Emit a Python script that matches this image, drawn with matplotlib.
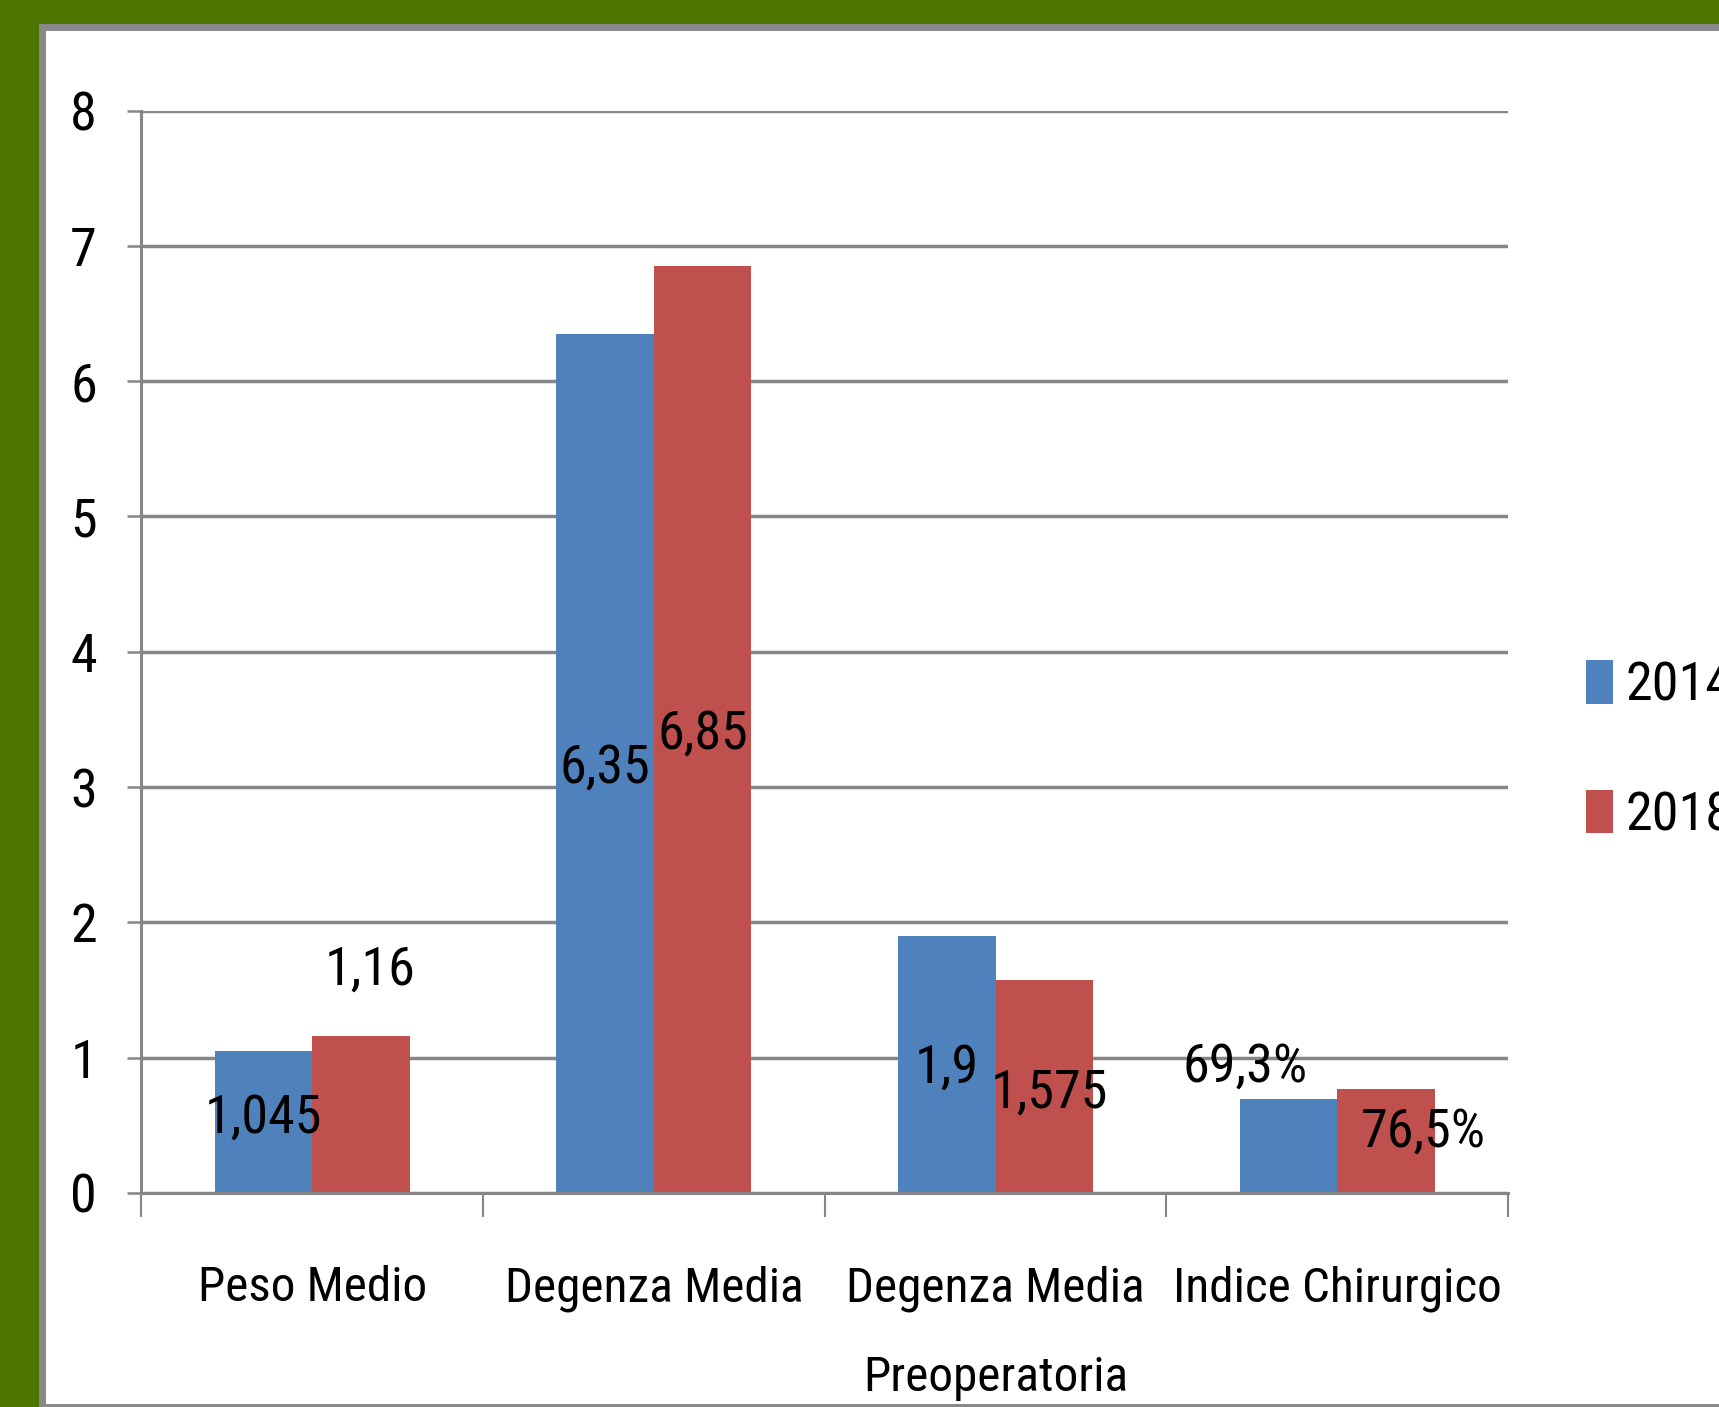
import matplotlib.pyplot as plt
import numpy as np
from matplotlib.patches import Rectangle

categories = ["Peso Medio", "Degenza Media", "Degenza Media\nPreoperatoria", "Indice Chirurgico"]
years = ["2014", "2018"]
values_2014 = [1.045, 6.35, 1.9, 0.693]
values_2018 = [1.16, 6.85, 1.575, 0.765]
labels_2014 = ["1,045", "6,35", "1,9", "69,3%"]
labels_2018 = ["1,16", "6,85", "1,575", "76,5%"]

# where the labels were dragged to in the original (x offset, y in data units)
label_pos_2014 = [(0.0, 0.55), (0.0, 3.14), (0.0, 0.92), (-0.128, 0.93)]
label_pos_2018 = [(0.027, 1.645), (0.0, 3.39), (0.014, 0.74), (0.11, 0.45)]

BLUE = "#4F81BD"
RED = "#C0504D"
GRID = "#868686"
FONT = ["Liberation Sans Narrow", "Roboto Condensed", "DejaVu Sans"]
FS = 39

plt.rcParams["font.family"] = FONT
plt.rcParams["font.stretch"] = "condensed"

W, H = 1719, 1407
fig = plt.figure(figsize=(W / 100, H / 100), dpi=100, facecolor="#4E7600")

# white panel with gray frame
fig.patches.append(Rectangle((41.5 / W, 0), 1.0, (H - 26.5) / H, transform=fig.transFigure,
                             facecolor="white", edgecolor="#898989", linewidth=5, zorder=-5))

left, right, top, bottom = 141.4, 1508, 110.7, 1192.8
ax = fig.add_axes([left / W, (H - bottom) / H, (right - left) / W, (bottom - top) / H])
ax.set_zorder(2)
ax.patch.set_alpha(0)

x = np.arange(len(categories))
bw = 1 / 3.5
ax.bar(x - bw / 2, values_2014, bw, color=BLUE, label=years[0], zorder=2)
ax.bar(x + bw / 2, values_2018, bw, color=RED, label=years[1], zorder=2)

for i in range(len(categories)):
    dx, yy = label_pos_2014[i]
    ax.text(x[i] - bw / 2 + dx, yy, labels_2014[i], ha="center", va="center", fontsize=FS, zorder=3)
    dx, yy = label_pos_2018[i]
    ax.text(x[i] + bw / 2 + dx, yy, labels_2018[i], ha="center", va="center", fontsize=FS, zorder=3)

ax.set_xlim(-0.5, len(categories) - 0.5)
ax.set_ylim(0, 8)
ax.set_yticks(range(0, 9))
ax.yaxis.grid(True, color=GRID, linewidth=2.5, zorder=1)
ax.set_axisbelow(True)

ax.set_xticks(x)
ax.set_xticklabels(categories, fontsize=35.5, linespacing=2.2)
ax.set_xticks(np.arange(-0.5, len(categories)), minor=True)
ax.tick_params(axis="x", which="major", length=0, pad=52)
ax.tick_params(axis="x", which="minor", length=17, width=1.5, color=GRID, direction="out")
ax.tick_params(axis="y", length=10, width=1.8, color=GRID, direction="out", pad=22, labelsize=FS)

for side in ["top", "right"]:
    ax.spines[side].set_visible(False)
for side in ["left", "bottom"]:
    ax.spines[side].set_color(GRID)
    ax.spines[side].set_linewidth(2.2)

fig.legend(loc="center left", bbox_to_anchor=(1586 / W, 1 - 751 / H), frameon=False,
           fontsize=FS, handlelength=0.49, handleheight=0.85, handletextpad=0.23,
           labelspacing=1.45, borderpad=0, borderaxespad=0)

fig.savefig("out.png", dpi=100, facecolor=fig.get_facecolor())
